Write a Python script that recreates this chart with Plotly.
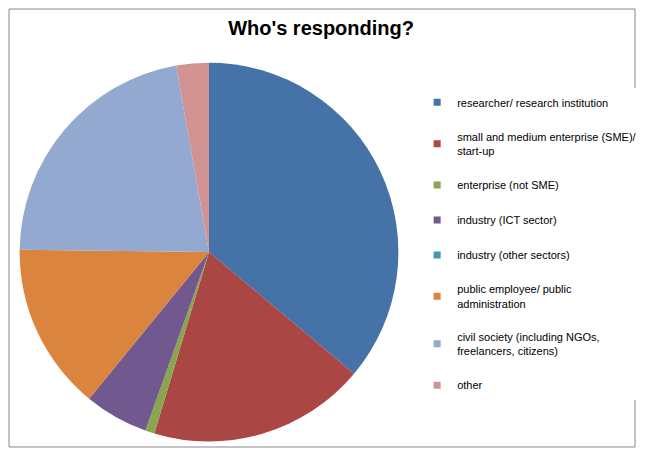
import plotly.graph_objects as go

# slice data (percentages)
labels = [
    "researcher/ research institution",
    "small and medium enterprise (SME)/<br>start-up",
    "enterprise (not SME)",
    "industry (ICT sector)",
    "industry (other sectors)",
    "public employee/ public<br>administration",
    "civil society (including NGOs,<br>freelancers, citizens)",
    "other",
]
shares = [36.4, 18.7, 0.8, 5.5, 0.0, 14.4, 22.2, 2.8]
colors = ["#4572A7", "#AA4643", "#89A54E", "#71588F", "#4198AF", "#DB843D", "#93A9CF", "#D19392"]

fig = go.Figure()

# Pie itself
fig.add_trace(go.Pie(
    labels=labels, values=shares, sort=False, direction="clockwise",
    marker=dict(colors=colors, line=dict(width=0)),
    textinfo="none", hoverinfo="label+percent", showlegend=False,
    domain=dict(x=[0.017, 0.622], y=[0.0, 0.89]),
))

# legend entries as dummy traces, so the spacing can be set
for i, (lab, col) in enumerate(zip(labels, colors)):
    fig.add_trace(go.Scatter(
        x=[None], y=[None], mode="markers", name=lab, legendgroup=str(i),
        marker=dict(symbol="square", size=7, color=col),
    ))

fig.update_layout(
    width=635, height=440,
    margin=dict(l=1, r=1, t=1, b=1),
    paper_bgcolor="white", plot_bgcolor="white",
    title=dict(text="<b>Who's responding?</b>", x=0.493, xanchor="center", y=0.955,
               yanchor="middle",
               font=dict(family="Liberation Sans, Arial", size=20, color="black")),
    xaxis=dict(visible=False), yaxis=dict(visible=False),
    legend=dict(x=0.652, y=0.82, xanchor="left", yanchor="top",
                font=dict(family="Liberation Sans, Arial", size=11, color="black"),
                tracegroupgap=16, itemwidth=30),
    shapes=[dict(type="rect", xref="paper", yref="paper", x0=0, y0=0, x1=1, y1=1,
                 line=dict(color="#888888", width=1))],
)

fig.write_html("out.html")
